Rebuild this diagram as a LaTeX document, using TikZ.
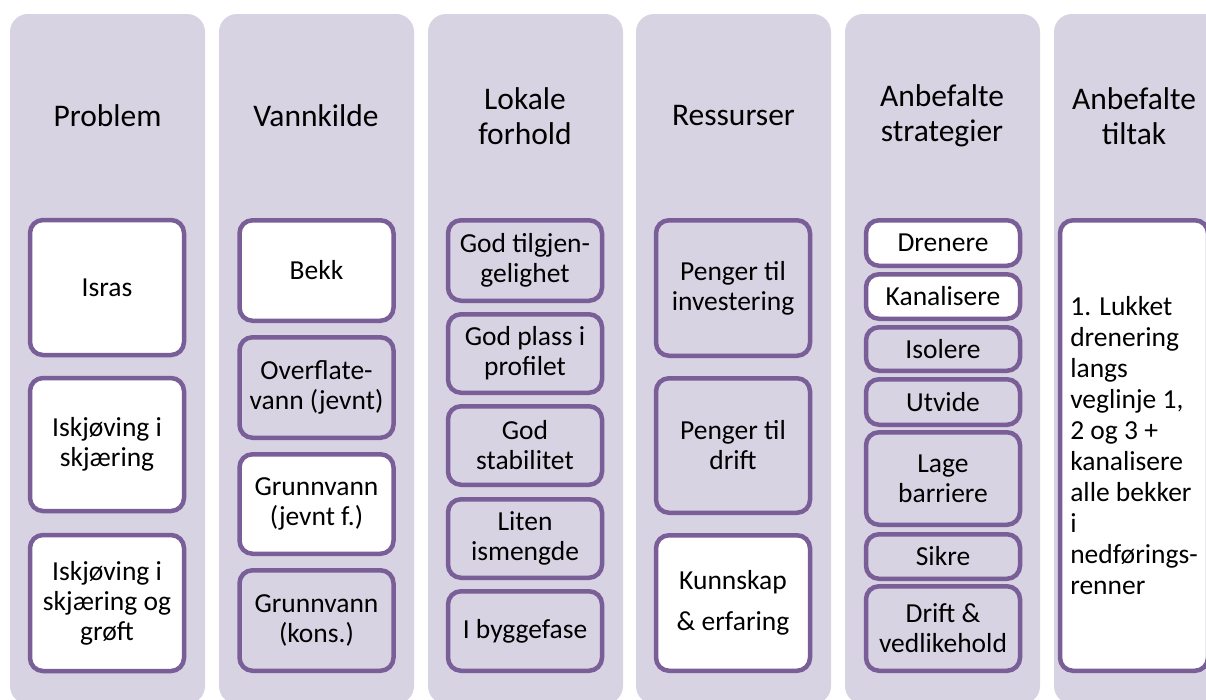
\documentclass[tikz,border=0pt]{standalone}
\usepackage{fontspec}
\setmainfont{Carlito}
\definecolor{colbg}{RGB}{215,211,226}
\definecolor{cellline}{RGB}{122,94,151}
\begin{document}
\begin{tikzpicture}[x=1pt, y=-1pt,
  column/.style={fill=colbg, rounded corners=18pt},
  head/.style={align=center, font=\fontsize{31.5}{35}\selectfont},
  cell/.style={draw=cellline, line width=4.5pt, rounded corners=13pt, fill=white,
    minimum width=154pt, align=center, inner sep=2pt, font=\fontsize{27.5}{30}\selectfont},
  pcell/.style={cell, fill=colbg}]
\useasboundingbox (0,0) rectangle (1206,699);
\clip (0,0) rectangle (1206,699);
% column backgrounds
\foreach \x in {10,219,428,636,845}
  \fill[column] (\x,14) rectangle ++(195,690);
\fill[column] (1054,14) rectangle (1228,704);
% headers
\node[head] (hprob) at (107.5,116) {Problem};
\node[head] (hvann) at (316,116) {Vannkilde};
\node[head] (hlok) at (525,116) {Lokale\\forhold};
\node[head] (hress) at (733.5,116) {Ressurser};
\node[head] (hstrat) at (942,116) {Anbefalte\\strategier};
\node[head] (htilt) at (1134,116) {Anbefalte\\tiltak};
% problem
\node[cell, minimum height=135pt] (isras) at (107,287.5) {Isras};
\node[cell, minimum height=133pt] (iskj) at (107,444.5) {Iskjøving i\\skjæring};
\node[cell, minimum height=136pt] (iskjg) at (107,603) {Iskjøving i\\skjæring og\\grøft};
% vannkilde
\node[cell, minimum height=100.5pt] (bekk) at (316.5,270.5) {Bekk};
\node[pcell, minimum height=100.5pt] (overfl) at (316.5,387.5) {Overflate-\\vann (jevnt)};
\node[cell, minimum height=99.5pt] (grunnj) at (316.5,504) {Grunnvann\\(jevnt f.)};
\node[pcell, minimum height=100.5pt] (grunnk) at (316.5,620.5) {Grunnvann\\(kons.)};
% lokale forhold
\node[pcell, minimum height=80.5pt] (tilgj) at (525,260.5) {God tilgjen-\\gelighet};
\node[pcell, minimum height=78.5pt] (plass) at (525,353.5) {God plass i\\profilet};
\node[pcell, minimum height=78.5pt] (stab) at (525,445.5) {God\\stabilitet};
\node[pcell, minimum height=78.5pt] (ismeng) at (525,538.5) {Liten\\ismengde};
\node[pcell, minimum height=79.5pt] (bygg) at (525,631) {I byggefase};
% ressurser
\node[pcell, minimum height=135.5pt] (invest) at (733,288) {Penger til\\investering};
\node[pcell, minimum height=134.5pt] (drift) at (733,445.5) {Penger til\\drift};
\node[cell, minimum height=135.5pt, font=\fontsize{27.5}{41}\selectfont] (kunn) at (733,603) {Kunnskap\\\& erfaring};
% strategier
\node[cell, minimum height=45.5pt] (dren) at (943,243) {Drenere};
\node[cell, minimum height=44.5pt] (kanal) at (943,296.5) {Kanalisere};
\node[pcell, minimum height=43.5pt] (isol) at (943,349) {Isolere};
\node[pcell, minimum height=45.5pt] (utv) at (943,402) {Utvide};
\node[pcell, minimum height=92.5pt] (barr) at (943,478.5) {Lage\\barriere};
\node[pcell, minimum height=44.5pt] (sikre) at (943,556.5) {Sikre};
\node[pcell, minimum height=84.5pt] (vedl) at (943,628.5) {Drift \&\\vedlikehold};
% tiltak
\node[cell, minimum width=148pt, minimum height=450.5pt, align=left,
  font=\fontsize{27.5}{31}\selectfont] (lukket) at (1134,445.5)
  {1. Lukket\\drenering\\langs\\veglinje 1,\\2 og 3 +\\kanalisere\\alle bekker\\i\\nedførings-\\renner};
\end{tikzpicture}
\end{document}
